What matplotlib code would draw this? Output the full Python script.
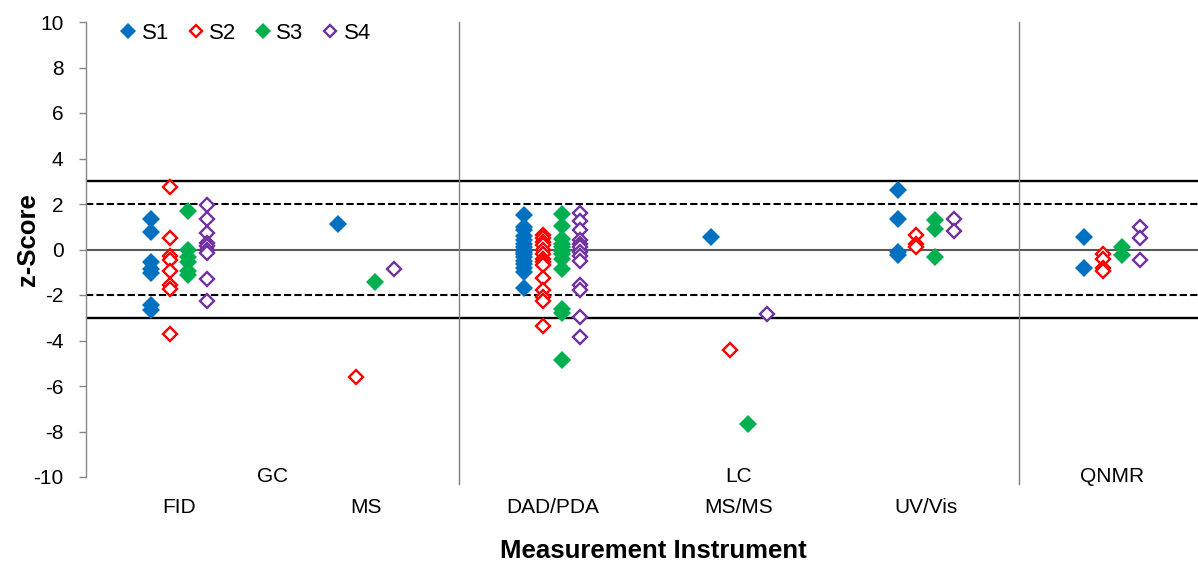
import matplotlib
matplotlib.use("Agg")
import matplotlib.pyplot as plt

plt.rcParams['font.family'] = ['Liberation Sans', 'DejaVu Sans']
plt.rcParams['axes.unicode_minus'] = False

# ---- data ----
instruments = ["FID", "MS", "DAD/PDA", "MS/MS", "UV/Vis", "QNMR"]
instrument_labels = ["FID", "MS", "DAD/PDA", "MS/MS", "UV/Vis", ""]
groups = ["GC", "LC", "QNMR"]
group_pos = [1.0, 3.5, 5.5]
separators = [2.0, 5.0]
series_names = ["S1", "S2", "S3", "S4"]

s1 = [[1.33, 0.75, -0.55, -0.85, -1.05, -2.45, -2.65],
      [1.1],
      [1.5, 1.0, 0.85, 0.6, 0.4, 0.25, 0.1, 0.0, -0.1, -0.2, -0.35, -0.5, -0.65, -0.8, -1.0, -1.7],
      [0.55],
      [2.62, 1.33, -0.1, -0.25],
      [0.56, -0.83]]
s2 = [[2.75, 0.5, -0.3, -0.45, -0.95, -1.55, -1.75, -3.7],
      [-5.6],
      [0.65, 0.5, 0.35, 0.2, 0.0, -0.2, -0.4, -0.55, -0.7, -1.25, -1.8, -2.1, -2.25, -3.38],
      [-4.42],
      [0.65, 0.25, 0.12],
      [-0.2, -0.4, -0.8, -0.95]]
s3 = [[1.7, 0.0, -0.35, -0.55, -0.95, -1.1],
      [-1.42],
      [1.55, 1.05, 0.45, 0.25, 0.1, -0.05, -0.2, -0.4, -0.85, -2.6, -2.8, -4.85],
      [-7.67],
      [1.3, 0.88, -0.32],
      [0.1, -0.22]]
s4 = [[1.97, 1.33, 0.72, 0.3, 0.15, 0.0, -0.15, -1.28, -2.28],
      [-0.85],
      [1.6, 1.25, 0.85, 0.4, 0.25, 0.1, -0.1, -0.3, -0.5, -1.55, -1.8, -2.95, -3.85],
      [-2.85],
      [1.33, 0.81],
      [1.0, 0.5, -0.45]]
series_values = [s1, s2, s3, s4]

# ---- style ----
colors = ["#0070C0", "#FF0000", "#00B050", "#7030A0"]
filled = [True, False, True, False]
offsets = [-0.15, -0.05, 0.05, 0.15]

W, H = 1198, 562
fig = plt.figure(figsize=(W / 100, H / 100), dpi=100)
ax = fig.add_axes([85.6 / W, 1 - 477 / H, 1 - 85.6 / W, (477 - 22) / H])
ax.set_xlim(0, (W - 85.6) / 186.7)
ax.set_ylim(-10, 10)

# reference lines
ax.axhline(0, color="#595959", lw=1.5, zorder=1)
for y in (3, -3):
    ax.axhline(y, color="black", lw=1.7, zorder=1)
for y in (2, -2):
    ax.axhline(y, color="black", lw=1.5, ls=(0, (3.5, 1.5)), zorder=1)
for xs in separators:
    ax.plot([xs, xs], [10, -10.3], color="#808080", lw=1.0, clip_on=False, zorder=1)

# points
for name, vals, c, f, off in zip(series_names, series_values, colors, filled, offsets):
    xs, ys = [], []
    for i, v in enumerate(vals):
        xs += [i + 0.5 + off] * len(v)
        ys += v
    ax.plot(xs, ys, ls="none", marker="D", markersize=9.0 if f else 7.6,
            markerfacecolor=c if f else "white", markeredgecolor=c,
            markeredgewidth=0 if f else 1.7, label=name, zorder=3, clip_on=False)

# axes styling
for s in ("top", "right", "bottom"):
    ax.spines[s].set_visible(False)
ax.spines["left"].set_color("#868686")
ax.spines["left"].set_linewidth(1.0)
ax.set_yticks(range(-10, 11, 2))
ax.tick_params(axis="y", direction="out", length=5, width=1, color="#868686",
               labelsize=15, pad=11)
ax.set_xticks([])

# category labels
for i, lab in enumerate(instrument_labels):
    if lab:
        ax.text(i + 0.5, -11.36, lab, ha="center", va="center", fontsize=15, clip_on=False)
for g, gp in zip(groups, group_pos):
    ax.text(gp, -10.0, g, ha="center", va="center", fontsize=15, clip_on=False)

fig.text(653 / W, 1 - 551 / H, "Measurement Instrument", ha="center", va="center",
         fontsize=18.5, fontweight="bold")
fig.text(28 / W, 1 - 240 / H, "z-Score", ha="center", va="center", rotation=90,
         fontsize=18.5, fontweight="bold")

leg = ax.legend(loc="upper left", bbox_to_anchor=(104 / W, 1 - 7 / H),
                bbox_transform=fig.transFigure, ncol=4, frameon=False,
                fontsize=16, handlelength=0.8, handletextpad=0.2,
                columnspacing=0.8, borderpad=0.2, markerscale=0.85)

fig.savefig("out.png", dpi=100)
